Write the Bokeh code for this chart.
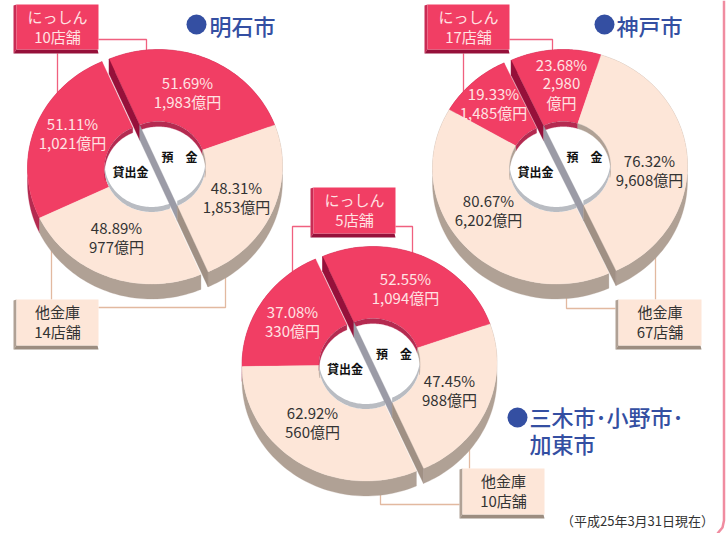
import numpy as np
from bokeh.plotting import figure
from bokeh.embed import file_html
from bokeh.resources import INLINE
from bokeh.core.properties import value

# ---- data ----
city_names = ["明石市", "神戸市", "三木市･小野市･\n加東市"]
shinkin_labels = ["にっしん\n10店舗", "にっしん\n17店舗", "にっしん\n5店舗"]
other_labels = ["他金庫\n14店舗", "他金庫\n67店舗", "他金庫\n10店舗"]
deposit_pct = [51.69, 23.68, 52.55]
deposit_amt = ["1,983億円", "2,980\n億円", "1,094億円"]
deposit_other_pct = [48.31, 76.32, 47.45]
deposit_other_amt = ["1,853億円", "9,608億円", "988億円"]
loan_pct = [51.11, 19.33, 37.08]
loan_amt = ["1,021億円", "1,485億円", "330億円"]
loan_other_pct = [48.89, 80.67, 62.92]
loan_other_amt = ["977億円", "6,202億円", "560億円"]
note = "（平成25年3月31日現在）"

# ---- layout, in picture pixels ----
W, H = 726, 533
PINK, PINK_WALL, PINK_CUT = "#f13e64", "#b42a50", "#96103a"
BEIGE, BEIGE_WALL, BEIGE_CUT = "#fde6d8", "#b0a195", "#a09084"
GRAY, RIM = "#9b9ba6", "#b9bcc2"
INK, BLUE = "#333333", "#344fa2"
PINK_LINE, BEIGE_LINE = "#f0607f", "#e2b9a0"
JP = value("Noto Sans CJK JP")

p = figure(width=W, height=H, x_range=(0, W), y_range=(H, 0), toolbar_location=None,
           output_backend="svg", outline_line_color=None, min_border=0,
           background_fill_color="white", border_fill_color="white")
p.axis.visible = False
p.grid.visible = False

RX, RY, IX, IY, DEPTH = 124, 116, 47, 44, 15
# centre of the right half, tilt of the cut (deg clockwise from up), shift of the left half
geom = [((158, 165), -23.5, (-7, 2.5)),
        ((563, 165), -25.0, (-7, 2.5)),
        ((372.5, 362), -24.0, (-7, 2.5))]


def pt(c, deg, rx, ry):
    a = np.radians(deg)
    return c[0] + rx * np.sin(a), c[1] - ry * np.cos(a)


def arc(c, a0, a1, rx, ry, n=60):
    t = np.linspace(a0, a1, n)
    x, y = pt(c, t, rx, ry)
    return list(x), list(y)


def ring(c, a0, a1, color):
    xo, yo = arc(c, a0, a1, RX, RY)
    xi, yi = arc(c, a1, a0, IX, IY)
    p.patch(xo + xi, yo + yi, fill_color=color, line_color=color, line_width=0.3)


def wall(c, a0, a1, color):
    xo, yo = arc(c, a0, a1, RX, RY)
    p.patch(xo + xo[::-1], yo + [v + DEPTH for v in yo[::-1]],
            fill_color=color, line_color=color, line_width=0.3)


def half(c, a0, segs):
    """segs: list of (percent, top colour, wall colour) going in the sign of a0's sweep"""
    cur = a0
    for pct, top, side, sgn in segs:
        end = cur + sgn * pct * 1.8
        wall(c, cur, end, side)
        cur = end
    cur = a0
    for pct, top, side, sgn in segs:
        end = cur + sgn * pct * 1.8
        ring(c, cur, end, top)
        cur = end


def inner_rim(c, a0, segs):
    """the hole's inner wall seen at its far (upper) side, and pale at the near side"""
    cur = a0
    for pct, top, side, sgn in segs:
        end = cur + sgn * pct * 1.8
        xo, yo = arc(c, cur, end, IX, IY)
        keep = [i for i, v in enumerate(yo) if v <= c[1] + 8]
        if keep:
            xs = [xo[i] for i in keep]
            ys = [yo[i] for i in keep]
            p.patch(xs + xs[::-1], ys + [v + 5 for v in ys[::-1]],
                    fill_color=side, line_color=side, line_width=0.3)
        cur = end


def quad(x0, y0, x1, y1, color):
    p.patch([x0, x1, x1, x0], [y0, y0, y1, y1], fill_color=color, line_color=None)


def box(x0, y0, x1, y1, front, side, dark, label, color):
    p.patch([x0, x0 + 3, x0 + 3, x0], [y0 + 1, y0, y1 - 4, y1], fill_color=side, line_color=None)
    p.patch([x0, x1, x1 - 1, x0 + 3], [y1, y1, y1 - 4, y1 - 4], fill_color=dark, line_color=None)
    quad(x0 + 3, y0, x1, y1 - 4, front)
    a, b = label.split("\n")
    cx = (x0 + 3 + x1) / 2
    for txt, yy in ((a, y0 + 12), (b, y0 + 32)):
        p.text([cx], [yy], text=[txt], text_color=color, text_font=JP, text_font_size="15px",
               text_align="center", text_baseline="middle")


def label(x, y, lines, color, size="15px"):
    for i, t in enumerate(lines):
        p.text([x], [y - 1 + i * 19], text=[t], text_color=color, text_font=JP, text_font_size=size,
               text_align="center", text_baseline="middle")


# connector lines first: they run behind the donuts
pink_paths = [([98, 146, 146], [39, 39, 54]), ([57, 57], [53, 95]),
              ([509, 552, 552], [39, 39, 54]), ([463, 463], [53, 95]),
              ([310, 292, 292], [226, 226, 275]), ([395, 412, 412], [226, 226, 256])]
beige_paths = [([51, 51], [245, 299]), ([98, 225, 225], [307, 307, 275]),
               ([615, 566, 566], [308, 308, 294]), ([655, 655], [299, 250]),
               ([459, 380, 380], [504, 504, 490]), ([469, 469], [468, 444])]
for xs, ys in pink_paths:
    p.line(xs, ys, line_color=PINK_LINE, line_width=1.3)
for xs, ys in beige_paths:
    p.line(xs, ys, line_color=BEIGE_LINE, line_width=1.3)
p.line([723.5, 723.5, 722, 717], [0, 520, 527, 533], line_color="#f08ca0", line_width=2.5)

for k in (0, 1, 2):
    c, tilt, shift = geom[k]
    cl = (c[0] + shift[0], c[1] + shift[1])
    loan_segs = [(loan_pct[k], PINK, PINK_WALL, -1), (loan_other_pct[k], BEIGE, BEIGE_WALL, -1)]
    dep_segs = [(deposit_pct[k], PINK, PINK_WALL, 1), (deposit_other_pct[k], BEIGE, BEIGE_WALL, 1)]
    # left half: loans
    half(cl, tilt, loan_segs)
    xh, yh = arc(cl, tilt - 180, tilt, IX, IY)
    p.patch(xh, yh, fill_color="white", line_color=None)
    inner_rim(cl, tilt, loan_segs)
    xr, yr = arc(cl, tilt - 180, tilt - 70, IX, IY)
    xr2, yr2 = arc((cl[0], cl[1] - 5), tilt - 70, tilt - 180, IX, IY)
    p.patch(xr + xr2, yr + yr2, fill_color=RIM, line_color=None)
    # right half: deposits
    half(c, tilt, dep_segs)
    xh, yh = arc(c, tilt, tilt + 180, IX, IY)
    p.patch(xh, yh, fill_color="white", line_color=None)
    inner_rim(c, tilt, dep_segs)
    xr, yr = arc(c, tilt + 120, tilt + 180, IX, IY)
    xr2, yr2 = arc((c[0], c[1] - 5), tilt + 180, tilt + 120, IX, IY)
    p.patch(xr + xr2, yr + yr2, fill_color=RIM, line_color=None)
    # the cut face of the right half, dark / grey / brown along the cut
    ang = np.radians(tilt)
    dx, dy = np.sin(ang), -np.cos(ang)
    for t0, t1, col in ((RX, IX, PINK_CUT), (IX, -IX, GRAY), (-IX, -RX, BEIGE_CUT)):
        x0, y0 = c[0] + dx * t0, c[1] + dy * t0 * RY / RX
        x1, y1 = c[0] + dx * t1, c[1] + dy * t1 * RY / RX
        p.patch([x0, x1, x1, x0], [y0, y1, y1 + DEPTH, y0 + DEPTH], fill_color=col, line_color=col, line_width=0.3)
    p.text([c[0] + 21], [c[1] - 9], text=["預　金"], text_color="#111111", text_font=JP,
           text_font_size="12px", text_font_style="bold", text_align="center", text_baseline="middle")

for c in geom:
    p.text([c[0][0] - 28], [c[0][1] + 6], text=["貸出金"], text_color="#111111", text_font=JP,
           text_font_size="12px", text_font_style="bold", text_align="center", text_baseline="middle")

# slice captions
pos_dep = [(187, 83), (561, 65), (405, 279)]
pos_dep_o = [(236, 188), (649, 161), (449, 381)]
pos_loan = [(72, 124), (493, 94), (292, 312)]
pos_loan_o = [(116, 228), (488, 201), (312, 413)]
for k in range(3):
    label(*pos_dep[k], [f"{deposit_pct[k]:.2f}%"] + deposit_amt[k].split("\n"), "#ffe3e3")
    label(*pos_dep_o[k], [f"{deposit_other_pct[k]:.2f}%", deposit_other_amt[k]], INK)
    label(*pos_loan[k], [f"{loan_pct[k]:.2f}%", loan_amt[k]], "#ffe3e3")
    label(*pos_loan_o[k], [f"{loan_other_pct[k]:.2f}%", loan_other_amt[k]], INK)

# label boxes
pink_boxes = [(13, 4, 98, 53), (424, 4, 509, 53), (310, 187, 395, 237)]
beige_boxes = [(13, 299, 98, 349), (615, 299, 701, 349), (459, 468, 544, 518)]
for k in range(3):
    box(*pink_boxes[k], PINK, "#c92c55", PINK_CUT, shinkin_labels[k], "#ffe3e3")
    box(*beige_boxes[k], BEIGE, BEIGE_WALL, "#9c8d80", other_labels[k], INK)

# city headings
dots = [(196, 24), (604, 24), (517, 417)]
p.scatter([d[0] for d in dots], [d[1] for d in dots], size=20, marker="circle",
          fill_color=BLUE, line_color=None)
TITLE = value("Noto Sans CJK JP Medium")
p.text([209, 616], [24, 24], text=[city_names[0], city_names[1]], text_color=BLUE, text_font=TITLE,
       text_font_size="22px", text_baseline="middle")
a, b = city_names[2].split("\n")
p.text([529, 529], [415, 442], text=[a, b], text_color=BLUE, text_font=TITLE,
       text_font_size="22px", text_baseline="middle")
p.text([637], [520], text=[note], text_color=INK, text_font=JP, text_font_size="13px",
       text_align="center", text_baseline="middle")

open("out.html", "w").write(file_html(p, INLINE))
